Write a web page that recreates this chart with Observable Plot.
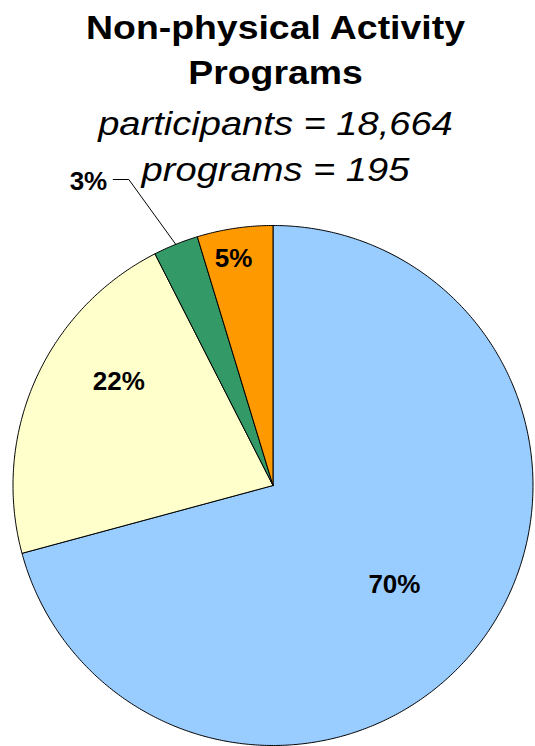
<!DOCTYPE html>
<html><head><meta charset="utf-8">
<script src="https://cdn.jsdelivr.net/npm/d3@7"></script>
<script src="https://cdn.jsdelivr.net/npm/@observablehq/plot@0.6"></script>
<style>
html,body{margin:0;padding:0;background:#fff;}
#wrap{position:relative;width:535px;height:746px;overflow:hidden;font-family:"Liberation Sans",Arial,sans-serif;}
#chart{position:absolute;left:0;top:0;}
.t{position:absolute;left:8px;width:535px;text-align:center;white-space:nowrap;color:#000;transform-origin:50% 50%;}
.title{font-size:34px;line-height:34px;font-weight:bold;transform:scaleX(1.1);}
.sub{font-size:34px;line-height:34px;font-style:italic;transform:scaleX(1.12);}
</style></head><body>
<div id="wrap">
<div id="chart"></div>
<div class="t title" id="t1" style="top:9.5px"></div>
<div class="t title" id="t2" style="top:55px"></div>
<div class="t sub" id="s1" style="top:105.6px"></div>
<div class="t sub" id="s2" style="top:152.2px"></div>
</div>
<script>
// ---- data ----
const categories = ["Category 1", "Category 2", "Category 3", "Category 4"];
const shares = [70.8, 21.7, 2.8, 4.7];
const labels = ["70%", "22%", "3%", "5%"];
const colors = ["#99CCFF", "#FFFFCC", "#339966", "#FF9900"];
const titleLines = ["Non-physical Activity", "Programs"];
const subtitleLines = ["participants = 18,664", "programs = 195"];

document.getElementById("t1").textContent = titleLines[0];
document.getElementById("t2").textContent = titleLines[1];
document.getElementById("s1").textContent = subtitleLines[0];
document.getElementById("s2").textContent = subtitleLines[1];

// label placement (layout, not data): radius fraction and angle nudge in degrees
const placement = {
  "Category 1": {r: 0.603, da: 1.8},
  "Category 2": {r: 0.716, da: 10.1},
  "Category 3": {outside: true, elbowR: 1.301, elbowDa: -3.27, run: 0.06, gap: 0.023},
  "Category 4": {r: 0.885, da: -1.4}
};

const rows = categories.map((c, i) => ({cat: c, value: shares[i], label: labels[i]}));
const arcs = d3.pie().sort(null).value(d => d.value)(rows);

const rad = Math.PI / 180;
const poly = [];
for (const a of arcs) {
  poly.push({cat: a.data.cat, x: 0, y: 0});
  const n = Math.max(2, Math.ceil((a.endAngle - a.startAngle) / (0.5 * rad)));
  for (let k = 0; k <= n; k++) {
    const t = a.startAngle + (a.endAngle - a.startAngle) * k / n;
    poly.push({cat: a.data.cat, x: Math.sin(t), y: Math.cos(t)});
  }
  poly.push({cat: a.data.cat, x: 0, y: 0});
}

const inside = [];
const outside = [];
const leaders = [];
for (const a of arcs) {
  const p = placement[a.data.cat];
  const mid = (a.startAngle + a.endAngle) / 2;
  if (!p.outside) {
    const t = mid + p.da * rad;
    inside.push({x: p.r * Math.sin(t), y: p.r * Math.cos(t), label: a.data.label});
  } else {
    const e = mid + p.elbowDa * rad;
    const ex = p.elbowR * Math.sin(e), ey = p.elbowR * Math.cos(e);
    leaders.push({x: Math.sin(mid), y: Math.cos(mid), k: 0});
    leaders.push({x: ex, y: ey, k: 1});
    leaders.push({x: ex - p.run, y: ey, k: 2});
    outside.push({x: ex - p.run - p.gap, y: ey - 0.01, label: a.data.label});
  }
}

const chart = Plot.plot({
  width: 535,
  height: 746,
  margin: 0,
  style: {background: "transparent", fontFamily: "Liberation Sans, Arial, sans-serif"},
  x: {domain: [-1, 1], range: [12.5, 532.5], axis: null},
  y: {domain: [-1, 1], range: [745, 225], axis: null},
  color: {domain: categories, range: colors},
  marks: [
    Plot.line(poly, {x: "x", y: "y", z: "cat", fill: "cat", stroke: "#000", strokeWidth: 1, strokeLinejoin: "round"}),
    Plot.line(leaders, {x: "x", y: "y", stroke: "#000", strokeWidth: 1}),
    Plot.text(inside, {x: "x", y: "y", text: "label", fontSize: 26, fontWeight: "bold", fill: "#000"}),
    Plot.text(outside, {x: "x", y: "y", text: "label", fontSize: 26, fontWeight: "bold", fill: "#000", textAnchor: "end"})
  ]
});
document.getElementById("chart").appendChild(chart);
</script>
</body></html>
